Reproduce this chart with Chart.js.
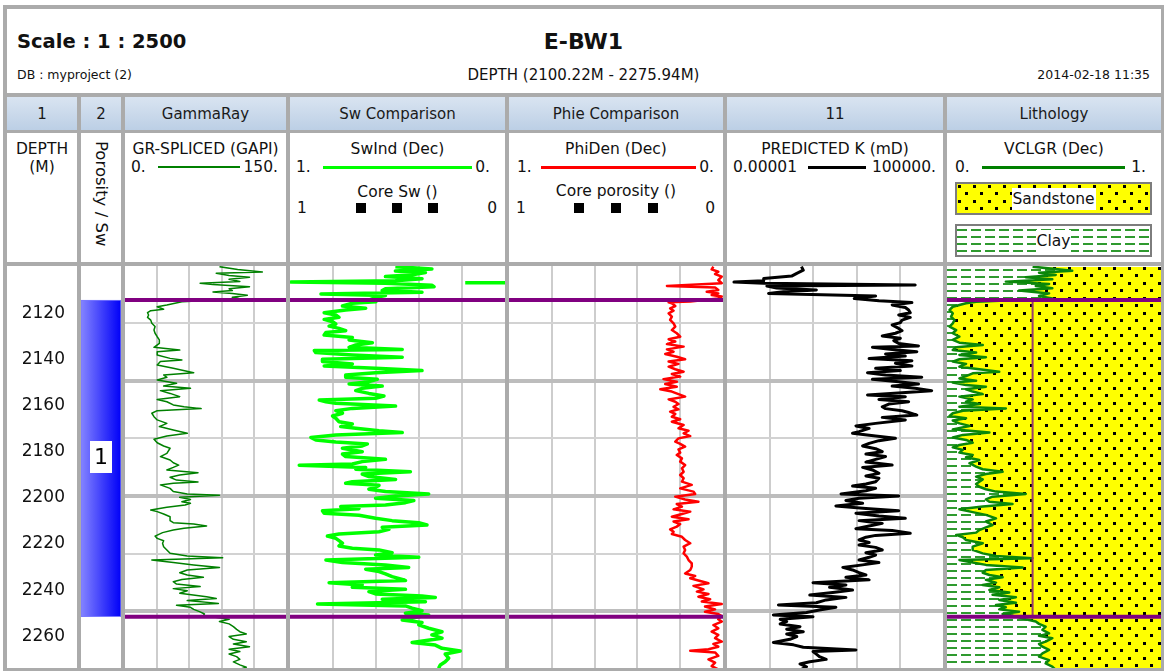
<!DOCTYPE html>
<html>
<head>
<meta charset="utf-8">
<title>E-BW1 log plot</title>
<script src="https://cdn.jsdelivr.net/npm/chart.js@4.4.1/dist/chart.umd.min.js"></script>
<style>
  html, body { margin: 0; padding: 0; background: #fff; }
  body { font-family: "DejaVu Sans", Verdana, sans-serif; color: #111; }
  #page { position: relative; width: 1164px; height: 671px; overflow: hidden; }
  .a { position: absolute; white-space: nowrap; }
  .line { position: absolute; background: #ababab; z-index: 5; }
  .hdr { position: absolute; top: 97px; height: 33px; line-height: 35px; text-align: center;
         font-size: 15px; color: #1a1a1a; background: linear-gradient(#d9e4f1, #bccfe5); }
  .cell { position: absolute; top: 133px; height: 129px; font-size: 15.5px; }
  .ttl { position: absolute; left: 0; right: 0; text-align: center; line-height: 18px; }
  .row { position: absolute; left: 0; right: 0; height: 18px; line-height: 18px; display: flex; align-items: center; padding: 0 8px 0 6px; }
  .row .ln { flex: 1; margin: 0 3px 0 12px; }
  .sq { display: inline-block; width: 10px; height: 10px; background: #000; }
  .box { position: absolute; left: 8px; width: 193px; height: 29px; border: 2px solid #7d7d7d; text-align: center; }
  .box span { display: inline-block; background: #fff; line-height: 22px; margin-top: 4px; padding: 0 1px; }
  canvas { position: absolute; top: 266px; }
</style>
</head>
<body>
<div id="page">
  <!-- title block -->
  <div class="a" style="left:17px;top:30px;font-size:19.5px;font-weight:bold;line-height:24px;">Scale : 1 : 2500</div>
  <div class="a" style="left:3px;width:1161px;top:29px;font-size:22px;font-weight:bold;line-height:26px;text-align:center;">E-BW1</div>
  <div class="a" style="left:17px;top:67px;font-size:12.5px;line-height:16px;">DB : myproject (2)</div>
  <div class="a" style="left:3px;width:1161px;top:66px;font-size:15px;line-height:18px;text-align:center;">DEPTH (2100.22M - 2275.94M)</div>
  <div class="a" style="right:14px;top:67px;font-size:12.5px;line-height:16px;">2014-02-18 11:35</div>

  <!-- track title row -->
  <div class="hdr" style="left:7px;width:70px;">1</div>
  <div class="hdr" style="left:81px;width:40px;">2</div>
  <div class="hdr" style="left:125px;width:161px;">GammaRay</div>
  <div class="hdr" style="left:290px;width:215px;">Sw Comparison</div>
  <div class="hdr" style="left:509px;width:214px;">Phie Comparison</div>
  <div class="hdr" style="left:727px;width:216px;">11</div>
  <div class="hdr" style="left:947px;width:214px;">Lithology</div>

  <!-- curve headers -->
  <div class="cell" style="left:7px;width:70px;">
    <div class="ttl" style="top:7px;">DEPTH<br>(M)</div>
  </div>
  <div class="cell" style="left:81px;width:40px;">
    <div class="a" style="left:10px;top:8px;width:20px;line-height:20px;font-size:16.5px;writing-mode:vertical-rl;">Porosity / Sw</div>
  </div>
  <div class="cell" style="left:125px;width:161px;">
    <div class="ttl" style="top:7px;">GR-SPLICED (GAPI)</div>
    <div class="row" style="top:25px;"><span>0.</span><span class="ln" style="height:1.5px;background:#008000;"></span><span>150.</span></div>
  </div>
  <div class="cell" style="left:290px;width:215px;">
    <div class="ttl" style="top:7px;">SwInd (Dec)</div>
    <div class="row" style="top:25px;padding-right:15px;"><span>1.</span><span class="ln" style="height:3px;background:#00ff00;"></span><span>0.</span></div>
    <div class="ttl" style="top:50px;">Core Sw ()</div>
    <div class="row" style="top:66px;padding:0 8px 0 7px;justify-content:space-between;"><span>1</span><span style="display:flex;gap:26px;"><i class="sq"></i><i class="sq"></i><i class="sq"></i></span><span>0</span></div>
  </div>
  <div class="cell" style="left:509px;width:214px;">
    <div class="ttl" style="top:7px;">PhiDen (Dec)</div>
    <div class="row" style="top:25px;padding:0 9px 0 8px;"><span>1.</span><span class="ln" style="height:3px;background:#ff0000;margin-left:9px;"></span><span>0.</span></div>
    <div class="ttl" style="top:49px;">Core porosity ()</div>
    <div class="row" style="top:66px;padding:0 8px 0 7px;justify-content:space-between;"><span>1</span><span style="display:flex;gap:27px;"><i class="sq"></i><i class="sq"></i><i class="sq"></i></span><span>0</span></div>
  </div>
  <div class="cell" style="left:727px;width:216px;">
    <div class="ttl" style="top:7px;">PREDICTED K (mD)</div>
    <div class="row" style="top:25px;padding:0 7px 0 6px;"><span>0.00001</span><span class="ln" style="height:3px;background:#000;margin:0 6px 0 11px;"></span><span>100000.</span></div>
  </div>
  <div class="cell" style="left:947px;width:214px;">
    <div class="ttl" style="top:7px;">VCLGR (Dec)</div>
    <div class="row" style="top:25px;padding:0 15px 0 8px;"><span>0.</span><span class="ln" style="height:3px;background:#008000;margin:0 6px 0 12px;"></span><span>1.</span></div>
    <div class="box" id="sandKey" style="top:49px;"><span>Sandstone</span></div>
    <div class="box" id="clayKey" style="top:91px;"><span>Clay</span></div>
  </div>

  <!-- plot tracks -->
  <canvas id="cDepth" style="left:7px;" width="70" height="405"></canvas>
  <canvas id="cZone" style="left:81px;" width="40" height="405"></canvas>
  <canvas id="cGr" style="left:125px;" width="161" height="405"></canvas>
  <canvas id="cSw" style="left:290px;" width="215" height="405"></canvas>
  <canvas id="cPhi" style="left:509px;" width="214" height="405"></canvas>
  <canvas id="cK" style="left:727px;" width="216" height="405"></canvas>
  <canvas id="cLith" style="left:947px;" width="214" height="405"></canvas>

  <!-- frame and track separators -->
  <div class="line" style="left:3px;top:5px;width:1161px;height:4px;"></div>
  <div class="line" style="left:3px;top:5px;width:4px;height:666px;"></div>
  <div class="line" style="left:1161px;top:5px;width:3px;height:666px;"></div>
  <div class="line" style="left:3px;top:668px;width:1161px;height:3px;"></div>
  <div class="line" style="left:3px;top:93px;width:1161px;height:4px;"></div>
  <div class="line" style="left:3px;top:130px;width:1161px;height:3px;"></div>
  <div class="line" style="left:3px;top:262px;width:1161px;height:4px;"></div>
  <div class="line" style="left:77px;top:93px;width:4px;height:578px;"></div>
  <div class="line" style="left:121px;top:93px;width:4px;height:578px;"></div>
  <div class="line" style="left:286px;top:93px;width:4px;height:578px;"></div>
  <div class="line" style="left:505px;top:93px;width:4px;height:578px;"></div>
  <div class="line" style="left:723px;top:93px;width:4px;height:578px;"></div>
  <div class="line" style="left:943px;top:93px;width:4px;height:578px;"></div>
</div>

<script>
// Depth window of the plot (m) and reference lines
const depthTop = 2100.22;
const depthBase = 2275.94;
const depthLabels = [2120, 2140, 2160, 2180, 2200, 2220, 2240, 2260];
const depthGrid = [2125, 2150, 2175, 2200, 2225, 2250, 2275];

// Zonation
const zoneNames = ['1'];
const zoneTops = [2115.0];
const zoneBases = [2252.4];
const vclCutoff = 0.4;

// Grid positions across each track
const grTicks = [30, 60, 90, 120];
const fracTicks = [0.2, 0.4, 0.6, 0.8];
const permTicks = [1e-3, 1e-1, 1e1, 1e3];

// Curves: [depth (m), value]
const grSpliced = [
  [2100.5,88],[2101.7,105],[2102.8,128],[2103.4,85],[2104.3,97],[2105.1,116],[2106.0,97],[2106.9,107],
  [2107.7,70],[2108.3,82],[2109.2,116],[2110.1,97],[2110.9,100],[2111.5,82],[2112.1,100],[2112.9,114],
  [2113.8,100],[2114.4,107],[2115.7,53],[2117.1,39],[2117.9,30],[2119.0,36],[2119.6,24],[2120.5,21],
  [2121.5,22],[2122.5,21],[2123.7,24],[2125.1,25],[2126.5,28],[2128.0,27],[2129.4,28],[2130.9,30],
  [2132.3,32],[2133.8,32],[2135.5,27],[2136.7,51],[2137.4,30],[2138.8,30],[2140.3,42],[2141.0,53],
  [2141.7,33],[2143.2,30],[2144.6,45],[2146.5,64],[2147.5,36],[2148.5,39],[2149.7,30],[2151.1,48],
  [2152.3,36],[2153.3,61],[2154.3,33],[2155.5,42],[2156.9,51],[2158.1,30],[2159.1,39],[2160.5,45],
  [2161.3,55],[2162.1,71],[2163.0,30],[2164.1,25],[2165.6,27],[2167.0,30],[2168.5,39],[2169.9,32],
  [2171.4,45],[2172.8,58],[2174.0,39],[2175.4,27],[2176.9,30],[2178.3,36],[2179.3,42],[2181.5,39],
  [2182.9,33],[2184.4,42],[2185.6,45],[2186.6,50],[2187.6,45],[2188.7,39],[2189.9,68],[2190.9,51],
  [2191.9,42],[2193.1,48],[2193.9,68],[2194.5,45],[2195.2,33],[2196.7,42],[2198.1,45],[2199.1,58],
  [2199.7,88],[2200.6,51],[2201.5,61],[2202.5,53],[2203.2,61],[2203.9,56],[2204.9,39],[2206.1,24],
  [2206.8,30],[2207.8,36],[2209.0,42],[2210.7,42],[2211.6,45],[2212.2,64],[2213.0,76],[2214.0,55],
  [2214.8,45],[2215.9,35],[2217.4,28],[2218.4,30],[2219.4,36],[2220.5,35],[2222.0,36],[2223.4,39],
  [2224.9,42],[2226.0,58],[2226.8,91],[2227.8,25],[2228.9,45],[2229.9,64],[2231.0,88],[2232.1,58],
  [2233.3,51],[2234.3,58],[2235.3,73],[2236.2,53],[2237.2,45],[2238.2,48],[2239.3,70],[2240.2,45],
  [2241.1,58],[2242.2,51],[2243.7,76],[2244.5,85],[2245.4,58],[2246.6,87],[2247.4,48],[2248.3,61],
  [2249.2,64],[2250.3,70],[2251.2,74],[2251.9,73],[2253.5,97],[2254.5,88],[2255.5,97],[2256.7,101],
  [2257.9,104],[2258.9,107],[2259.9,113],[2261.0,97],[2262.2,101],[2263.2,113],[2264.2,101],[2265.4,116],
  [2266.5,97],[2267.5,107],[2268.6,97],[2269.7,104],[2270.9,107],[2272.0,101],[2273.3,107],[2274.3,113],
  [2275.5,105]
];

const swInd = [
  [2100.5,0.51],[2101.5,0.34],[2102.4,0.51],[2103.1,0.37],[2104.0,0.43],[2104.8,0.556],[2105.7,0.386],
  [2106.6,0.51],[2107.2,0.995],[2107.7,0.556],[2108.6,0.34],[2109.2,0.33],[2110.1,0.556],[2110.9,0.571],
  [2111.6,0.386],[2112.4,0.856],[2113.0,0.556],[2113.8,0.60],[2114.7,0.625],[2115.7,0.60],[2116.4,0.71],
  [2117.6,0.756],[2118.6,0.648],[2119.3,0.741],[2120.5,0.841],[2121.5,0.787],[2122.5,0.772],[2123.4,0.841],
  [2124.4,0.802],[2125.4,0.787],[2126.3,0.818],[2127.3,0.772],[2128.3,0.741],[2129.1,0.833],[2130.2,0.841],
  [2131.2,0.71],[2132.3,0.725],[2133.5,0.617],[2134.5,0.694],[2135.5,0.725],[2136.4,0.478],[2136.9,0.887],
  [2137.8,0.88],[2138.8,0.71],[2139.8,0.478],[2140.7,0.849],[2141.7,0.849],[2142.7,0.71],[2143.6,0.841],
  [2144.6,0.602],[2145.6,0.386],[2146.5,0.602],[2147.5,0.741],[2148.5,0.741],[2149.4,0.594],[2150.4,0.633],
  [2151.4,0.725],[2152.3,0.571],[2153.3,0.664],[2154.3,0.694],[2155.5,0.633],[2156.6,0.563],[2157.6,0.602],
  [2158.4,0.864],[2159.1,0.833],[2159.8,0.787],[2161.0,0.509],[2162.0,0.71],[2163.0,0.787],[2164.1,0.756],
  [2165.3,0.802],[2166.3,0.787],[2167.8,0.772],[2168.8,0.71],[2169.9,0.764],[2170.6,0.694],[2171.7,0.586],
  [2172.5,0.478],[2173.5,0.787],[2174.6,0.903],[2175.7,0.88],[2176.6,0.787],[2177.4,0.64],[2178.3,0.664],
  [2179.3,0.756],[2180.8,0.664],[2181.8,0.756],[2182.9,0.741],[2184.1,0.556],[2185.1,0.664],[2186.1,0.71],
  [2186.7,0.957],[2187.6,0.648],[2188.4,0.694],[2189.5,0.44],[2190.5,0.664],[2191.6,0.633],[2192.8,0.509],
  [2193.8,0.71],[2194.5,0.741],[2195.4,0.586],[2196.2,0.602],[2197.1,0.633],[2198.1,0.556],[2199.1,0.355],
  [2200.0,0.509],[2201.0,0.602],[2202.0,0.424],[2202.9,0.463],[2203.9,0.556],[2204.6,0.764],[2205.5,0.679],
  [2206.4,0.849],[2207.5,0.841],[2208.4,0.679],[2209.7,0.602],[2210.7,0.525],[2211.6,0.401],[2212.6,0.363],
  [2213.6,0.571],[2214.5,0.54],[2215.5,0.586],[2216.5,0.772],[2217.4,0.826],[2218.4,0.787],[2219.4,0.772],
  [2220.5,0.756],[2221.7,0.772],[2222.7,0.71],[2223.4,0.586],[2224.6,0.525],[2225.6,0.602],[2226.6,0.401],
  [2227.8,0.833],[2228.9,0.756],[2229.9,0.556],[2231.0,0.448],[2231.8,0.648],[2232.8,0.586],[2233.8,0.556],
  [2235.0,0.525],[2236.2,0.478],[2236.7,0.463],[2237.6,0.818],[2238.6,0.664],[2239.6,0.71],[2240.5,0.463],
  [2241.5,0.633],[2242.5,0.602],[2243.4,0.386],[2244.0,0.324],[2244.8,0.571],[2245.9,0.37],[2246.9,0.872],
  [2247.7,0.463],[2248.7,0.432],[2249.8,0.386],[2250.9,0.463],[2251.6,0.355],[2253.8,0.478],[2254.9,0.386],
  [2255.9,0.401],[2257.4,0.355],[2258.9,0.293],[2260.3,0.34],[2261.7,0.293],[2263.6,0.432],[2264.7,0.324],
  [2266.1,0.293],[2267.3,0.208],[2268.6,0.278],[2270.4,0.262],[2271.9,0.278],[2273.3,0.301],[2274.8,0.309]
];
// part of the SwInd curve that wraps past the left edge of the track
const swIndWrap = [[2107.5,0.185],[2107.5,0.0]];

const phiDen = [
  [2100.5,0.045],[2101.7,0.053],[2102.7,0.022],[2103.7,0.037],[2104.8,0.006],[2106.3,0.022],[2107.7,0.006],
  [2108.9,0.262],[2109.5,0.037],[2110.6,0.022],[2111.4,0.076],[2112.1,0.022],[2112.8,0.053],[2113.5,0.006],
  [2114.3,0.022],[2115.6,0.153],[2116.0,0.254],[2116.4,0.239],[2117.6,0.223],[2118.6,0.247],[2119.6,0.231],
  [2120.8,0.254],[2122.2,0.239],[2123.6,0.247],[2125.1,0.231],[2126.5,0.223],[2128.0,0.239],[2129.4,0.216],
  [2130.9,0.2],[2132.0,0.254],[2133.0,0.223],[2134.1,0.262],[2135.2,0.184],[2136.4,0.262],[2137.4,0.231],
  [2138.4,0.27],[2139.6,0.216],[2140.7,0.177],[2141.7,0.254],[2142.7,0.208],[2143.9,0.254],[2145.0,0.223],
  [2146.1,0.184],[2147.1,0.239],[2148.2,0.2],[2149.3,0.278],[2150.4,0.216],[2151.4,0.27],[2152.6,0.216],
  [2153.7,0.293],[2154.7,0.239],[2155.8,0.208],[2156.9,0.177],[2158.1,0.254],[2159.1,0.223],[2160.1,0.208],
  [2161.3,0.231],[2162.4,0.208],[2163.4,0.247],[2164.4,0.223],[2165.6,0.239],[2166.7,0.2],[2167.8,0.239],
  [2169.2,0.184],[2170.6,0.208],[2171.7,0.161],[2172.8,0.184],[2174.0,0.153],[2175.0,0.208],[2176.4,0.223],
  [2177.4,0.2],[2178.6,0.177],[2179.8,0.208],[2181.2,0.2],[2182.2,0.216],[2183.7,0.192],[2185.1,0.2],
  [2186.6,0.177],[2188.0,0.192],[2189.5,0.184],[2190.9,0.2],[2192.3,0.184],[2193.8,0.192],[2195.2,0.146],
  [2196.7,0.2],[2198.1,0.138],[2199.1,0.13],[2200.3,0.223],[2201.5,0.177],[2202.5,0.115],[2203.5,0.216],
  [2204.6,0.192],[2205.8,0.231],[2206.8,0.153],[2207.8,0.192],[2209.0,0.239],[2210.1,0.161],[2211.1,0.231],
  [2212.2,0.2],[2213.3,0.216],[2214.5,0.247],[2215.5,0.231],[2216.5,0.239],[2217.7,0.192],[2219.1,0.177],
  [2220.5,0.153],[2222.0,0.184],[2223.4,0.177],[2224.9,0.184],[2226.3,0.169],[2227.8,0.161],[2229.2,0.146],
  [2230.7,0.146],[2232.1,0.153],[2233.6,0.177],[2234.7,0.13],[2235.7,0.153],[2236.7,0.115],[2237.9,0.068],
  [2239.0,0.138],[2240.5,0.091],[2241.5,0.122],[2242.5,0.068],[2243.7,0.115],[2244.8,0.06],[2245.8,0.099],
  [2246.9,0.006],[2248.0,0.084],[2249.2,0.037],[2250.2,0.084],[2251.2,0.022],[2252.1,0.006],[2253.5,0.022],
  [2254.5,0.006],[2256.0,0.045],[2257.4,0.022],[2258.9,0.053],[2260.3,0.022],[2261.7,0.037],[2263.2,0.006],
  [2264.2,0.045],[2265.4,0.022],[2266.5,0.068],[2267.2,0.153],[2267.9,0.037],[2269.4,0.022],[2270.9,0.068],
  [2272.3,0.037],[2273.8,0.053],[2275.2,0.022]
];

const predictedK = [
  [2100.5,0.028],[2102.0,0.034],[2103.4,0.017],[2104.6,0.0098],[2105.6,0.0005],[2106.6,0.0005],[2107.2,0.000021],
  [2107.7,0.0005],[2108.5,5160],[2108.9,0.0007],[2109.8,0.002],[2110.6,0.137],[2111.4,0.0041],[2112.1,0.00084],
  [2113.2,76],[2114.3,7.8],[2115.3,108],[2116.1,3630],[2117.1,442],[2118.2,1800],[2119.3,2560],[2120.5,3050],
  [2121.5,891],[2122.5,3050],[2123.7,1270],[2124.8,1060],[2125.8,442],[2127.3,891],[2128.3,1270],[2129.4,628],
  [2130.6,154],[2131.6,1060],[2132.6,525],[2133.8,891],[2134.9,7330],[2135.5,54],[2136.4,442],[2137.4,6150],
  [2138.4,219],[2139.3,1800],[2140.4,38],[2141.3,3630],[2142.4,628],[2143.6,3630],[2144.6,76],[2145.6,1060],
  [2146.5,32],[2147.5,219],[2148.5,10400],[2149.4,54],[2150.4,891],[2151.4,7330],[2152.3,442],[2153.3,5160],
  [2154.3,29900],[2155.2,1270],[2156.2,32],[2156.9,1800],[2158.1,108],[2159.1,2560],[2160.1,310],[2161.3,154],
  [2162.1,219],[2163.0,1270],[2163.8,2560],[2164.9,6150],[2165.9,154],[2167.0,1800],[2168.5,76],[2169.6,9.3],
  [2170.7,38],[2172.1,13],[2172.8,6.5],[2174.0,76],[2175.0,628],[2176.0,108],[2177.2,38],[2178.3,19],
  [2179.5,76],[2180.8,154],[2181.8,27],[2182.9,219],[2184.1,76],[2185.3,27],[2186.6,442],[2187.6,19],
  [2188.7,54],[2190.2,108],[2191.3,27],[2192.3,108],[2193.8,76],[2194.8,27],[2195.7,6.5],[2196.7,76],
  [2197.7,27],[2199.1,1.9],[2200.0,891],[2201.0,13],[2202.0,3.2],[2203.2,19],[2204.3,1.1],[2205.4,27],
  [2206.4,891],[2207.5,9.3],[2208.7,108],[2209.7,1800],[2210.7,13],[2211.9,154],[2213.0,38],[2214.2,9.3],
  [2215.0,442],[2216.2,3050],[2217.1,76],[2217.9,27],[2219.1,13],[2220.2,38],[2221.3,13],[2222.3,76],
  [2223.4,154],[2224.6,27],[2225.6,76],[2226.6,38],[2227.8,13],[2228.9,108],[2229.9,19],[2231.0,2.3],
  [2232.1,6.5],[2233.3,13],[2234.3,27],[2235.3,3.2],[2236.4,38],[2237.6,0.096],[2238.6,3.2],[2239.6,0.56],
  [2240.8,6.5],[2241.9,0.79],[2243.0,0.068],[2244.0,3.2],[2245.1,0.39],[2246.3,0.137],[2247.3,0.0024],
  [2248.3,1.1],[2249.5,0.19],[2250.6,0.048],[2251.6,0.0014],[2252.4,0.096],[2253.5,0.0029],[2254.5,0.0058],
  [2255.5,0.0029],[2256.7,0.024],[2257.8,0.0058],[2258.9,0.034],[2259.9,0.0058],[2261.0,0.017],[2262.2,0.0082],
  [2263.6,0.0014],[2264.6,0.012],[2265.6,0.034],[2266.8,9.3],[2267.5,0.096],[2268.6,0.137],[2269.7,0.19],
  [2270.9,0.39],[2271.9,0.068],[2272.9,0.024],[2274.1,0.048],[2275.5,0.024]
];

const vclGr = [
  [2100.5,0.40],[2102.3,0.585],[2103.1,0.43],[2104.1,0.508],[2105.1,0.368],[2106.0,0.492],[2107.0,0.275],
  [2108.0,0.477],[2108.9,0.415],[2109.9,0.492],[2110.9,0.337],[2112.1,0.477],[2113.2,0.43],[2114.3,0.492],
  [2115.7,0.136],[2116.4,0.089],[2117.9,0.027],[2119.3,0.012],[2120.8,0.027],[2122.2,0.019],[2123.7,0.035],
  [2125.1,0.027],[2126.5,0.012],[2128.0,0.043],[2129.4,0.027],[2130.9,0.058],[2132.3,0.027],[2133.5,0.058],
  [2134.5,0.167],[2135.5,0.043],[2136.7,0.027],[2137.8,0.136],[2138.8,0.058],[2139.8,0.182],[2140.7,0.058],
  [2141.7,0.027],[2142.7,0.089],[2143.9,0.058],[2145.0,0.151],[2146.1,0.244],[2146.8,0.12],[2148.0,0.089],
  [2149.0,0.058],[2150.0,0.136],[2150.8,0.027],[2151.9,0.089],[2152.6,0.182],[2153.7,0.089],[2154.7,0.12],
  [2155.8,0.167],[2156.9,0.058],[2158.1,0.12],[2159.1,0.089],[2160.1,0.151],[2161.3,0.058],[2162.0,0.275],
  [2163.0,0.074],[2164.1,0.027],[2165.3,0.012],[2166.3,0.089],[2167.3,0.027],[2168.5,0.058],[2169.6,0.105],
  [2171.1,0.027],[2172.5,0.198],[2173.5,0.074],[2174.6,0.027],[2175.7,0.089],[2176.9,0.12],[2177.9,0.058],
  [2178.9,0.027],[2180.0,0.074],[2181.2,0.058],[2182.2,0.12],[2183.2,0.089],[2184.4,0.151],[2185.8,0.105],
  [2187.3,0.136],[2188.4,0.167],[2189.5,0.26],[2190.5,0.182],[2191.6,0.136],[2192.8,0.167],[2193.8,0.151],
  [2194.8,0.136],[2196.0,0.151],[2197.1,0.182],[2198.1,0.229],[2199.1,0.368],[2200.3,0.213],[2201.5,0.182],
  [2202.5,0.198],[2203.5,0.306],[2204.6,0.167],[2205.8,0.058],[2207.0,0.12],[2208.2,0.182],[2209.7,0.229],
  [2211.1,0.182],[2212.6,0.213],[2213.6,0.182],[2214.8,0.151],[2215.9,0.136],[2216.9,0.043],[2217.9,0.074],
  [2219.1,0.089],[2220.5,0.167],[2222.0,0.12],[2223.4,0.12],[2224.9,0.167],[2226.0,0.229],[2227.0,0.399],
  [2227.8,0.058],[2228.9,0.12],[2229.9,0.182],[2231.0,0.353],[2232.1,0.182],[2233.3,0.167],[2234.3,0.198],
  [2235.3,0.26],[2236.4,0.182],[2237.6,0.229],[2238.6,0.167],[2239.6,0.244],[2240.8,0.198],[2241.9,0.291],
  [2242.9,0.213],[2243.9,0.322],[2245.1,0.244],[2246.3,0.322],[2247.3,0.229],[2248.3,0.275],[2249.2,0.244],
  [2250.2,0.337],[2251.2,0.26],[2251.9,0.306],[2253.5,0.368],[2254.5,0.415],[2255.5,0.43],[2256.7,0.461],
  [2258.1,0.446],[2259.6,0.477],[2260.7,0.43],[2261.7,0.492],[2263.2,0.461],[2264.2,0.43],[2265.4,0.446],
  [2266.8,0.477],[2268.3,0.446],[2269.7,0.43],[2271.2,0.477],[2272.6,0.461],[2274.0,0.492],[2275.5,0.508]
];

// ---------------------------------------------------------------------------
Chart.defaults.font.family = '"DejaVu Sans", Verdana, sans-serif';

const toPoints = arr => arr.map(([d, v]) => ({ x: v, y: d }));
const isMajor = c => c.tick && Math.round(c.tick.value) % 50 === 0;

function depthAxis() {
  return {
    type: 'linear', reverse: true, min: depthTop, max: depthBase,
    afterBuildTicks: s => { s.ticks = depthGrid.map(v => ({ value: v })); },
    ticks: { display: false },
    grid: { drawTicks: false, color: c => isMajor(c) ? '#bdbdbd' : '#d2d2d2', lineWidth: c => isMajor(c) ? 4 : 2 },
    border: { display: false }
  };
}
function valueAxis(type, min, max, reverse, ticks) {
  return {
    type, min, max, reverse,
    afterBuildTicks: s => { s.ticks = ticks.map(v => ({ value: v })); },
    ticks: { display: false },
    grid: { drawTicks: false, color: '#cdcdcd', lineWidth: 2 },
    border: { display: false }
  };
}
function curve(data, color, width, extra) {
  return Object.assign({
    data: toPoints(data), borderColor: color, borderWidth: width, pointRadius: 0,
    fill: false, tension: 0, borderJoinStyle: 'round'
  }, extra || {});
}
function zoneLines(min, max) {
  return zoneTops.concat(zoneBases).map(d => ({
    data: [{ x: min, y: d }, { x: max, y: d }], borderColor: '#800080', borderWidth: 4,
    pointRadius: 0, fill: false, order: -2
  }));
}
const baseOptions = () => ({
  indexAxis: 'y', responsive: false, animation: false, devicePixelRatio: 1,
  layout: { padding: 0 },
  plugins: { legend: { display: false }, tooltip: { enabled: false } },
  elements: { point: { radius: 0 }, line: { tension: 0 } }
});
function track(id, xAxis, datasets) {
  const options = baseOptions();
  options.scales = { x: xAxis, y: depthAxis() };
  return new Chart(document.getElementById(id), { type: 'line', data: { datasets }, options });
}

// Depth labels
new Chart(document.getElementById('cDepth'), {
  type: 'line',
  data: { datasets: [] },
  options: {
    responsive: false, animation: false, devicePixelRatio: 1, layout: { padding: 0 },
    plugins: { legend: { display: false }, tooltip: { enabled: false } },
    scales: {
      x: { display: false },
      y: {
        type: 'linear', reverse: true, min: depthTop, max: depthBase, position: 'left',
        afterBuildTicks: s => { s.ticks = depthLabels.map(v => ({ value: v })); },
        afterFit: s => { s.width = 61; s.paddingTop = 0; s.paddingBottom = 0; },
        ticks: { color: '#111', font: { size: 17 }, padding: 3, labelOffset: 2, autoSkip: false, callback: v => String(v) },
        grid: { display: false, drawTicks: false },
        border: { display: false }
      }
    }
  }
});

// Zone bar with its name
const zoneLabel = {
  id: 'zoneLabel',
  afterDatasetsDraw(chart) {
    const ctx = chart.ctx;
    chart.getDatasetMeta(0).data.forEach((bar, i) => {
      const { x, y, base } = bar.getProps(['x', 'y', 'base'], true);
      const cy = (y + base) / 2;
      ctx.save();
      ctx.fillStyle = '#ffffff';
      ctx.fillRect(Math.round(x - 11), Math.round(cy - 17), 22, 32);
      ctx.fillStyle = '#000000';
      ctx.font = '22px "DejaVu Sans", Verdana, sans-serif';
      ctx.textAlign = 'center';
      ctx.textBaseline = 'middle';
      ctx.fillText(zoneNames[i], x, cy);
      ctx.restore();
    });
  }
};
new Chart(document.getElementById('cZone'), {
  type: 'bar',
  data: {
    labels: zoneNames,
    datasets: [{
      data: zoneNames.map((n, i) => [zoneTops[i], zoneBases[i]]),
      backgroundColor: c => {
        const a = c.chart.chartArea;
        if (!a) return '#4040ff';
        const g = c.chart.ctx.createLinearGradient(a.left, 0, a.right, 0);
        g.addColorStop(0, '#8484ff');
        g.addColorStop(1, '#0000f8');
        return g;
      },
      borderColor: '#7a7aff', borderWidth: 1, borderSkipped: false,
      barPercentage: 1, categoryPercentage: 1
    }]
  },
  options: {
    responsive: false, animation: false, devicePixelRatio: 1, layout: { padding: 0 },
    plugins: { legend: { display: false }, tooltip: { enabled: false } },
    scales: {
      x: { display: false },
      y: { type: 'linear', reverse: true, min: depthTop, max: depthBase, display: false }
    }
  },
  plugins: [zoneLabel]
});

// Gamma ray
track('cGr', valueAxis('linear', 0, 150, false, grTicks), [
  ...zoneLines(0, 150),
  curve(grSpliced, '#008000', 1.5)
]);

// Water saturation
track('cSw', valueAxis('linear', 0, 1, true, fracTicks), [
  ...zoneLines(0, 1),
  curve(swInd, '#00ff00', 3.5),
  curve(swIndWrap, '#00ff00', 3.5)
]);

// Porosity
track('cPhi', valueAxis('linear', 0, 1, true, fracTicks), [
  ...zoneLines(0, 1),
  curve(phiDen, '#ff0000', 2.5)
]);

// Permeability
track('cK', valueAxis('logarithmic', 1e-5, 1e5, false, permTicks), [
  curve(predictedK, '#000000', 3)
]);

// Lithology fills
function tile(w, h, bg, draw) {
  const c = document.createElement('canvas');
  c.width = w; c.height = h;
  const g = c.getContext('2d');
  g.fillStyle = bg; g.fillRect(0, 0, w, h);
  draw(g);
  return c;
}
const sandTile = tile(15, 15, '#ffff00', g => { g.fillStyle = '#000'; g.fillRect(1, 1, 3, 3); g.fillRect(8, 8, 3, 3); });
const clayTile = tile(14, 7, '#ffffff', g => { g.fillStyle = '#2f9a2f'; g.fillRect(0, 3, 10, 2); });
document.getElementById('sandKey').style.backgroundImage = 'url(' + sandTile.toDataURL() + ')';
document.getElementById('clayKey').style.backgroundImage = 'url(' + clayTile.toDataURL() + ')';
const lithCtx = document.getElementById('cLith').getContext('2d');
const sandFill = lithCtx.createPattern(sandTile, 'repeat');
const clayFill = lithCtx.createPattern(clayTile, 'repeat');

const lithAxis = valueAxis('linear', 0, 1, false, []);
lithAxis.grid.display = false;
track('cLith', lithAxis, [
  ...zoneLines(0, 1),
  {
    data: zoneTops.flatMap((t, i) => [{ x: vclCutoff, y: t }, { x: vclCutoff, y: zoneBases[i] }]),
    borderColor: '#9a3c6c', borderWidth: 2, pointRadius: 0, fill: false, order: -1
  },
  curve(vclGr, '#0a870a', 2.5, { order: 0 }),
  curve(vclGr, 'rgba(0,0,0,0)', 1, { fill: { value: 0 }, backgroundColor: clayFill, order: 2 }),
  curve(vclGr, 'rgba(0,0,0,0)', 1, { fill: { value: 1 }, backgroundColor: sandFill, order: 2 })
]);
</script>
</body>
</html>
